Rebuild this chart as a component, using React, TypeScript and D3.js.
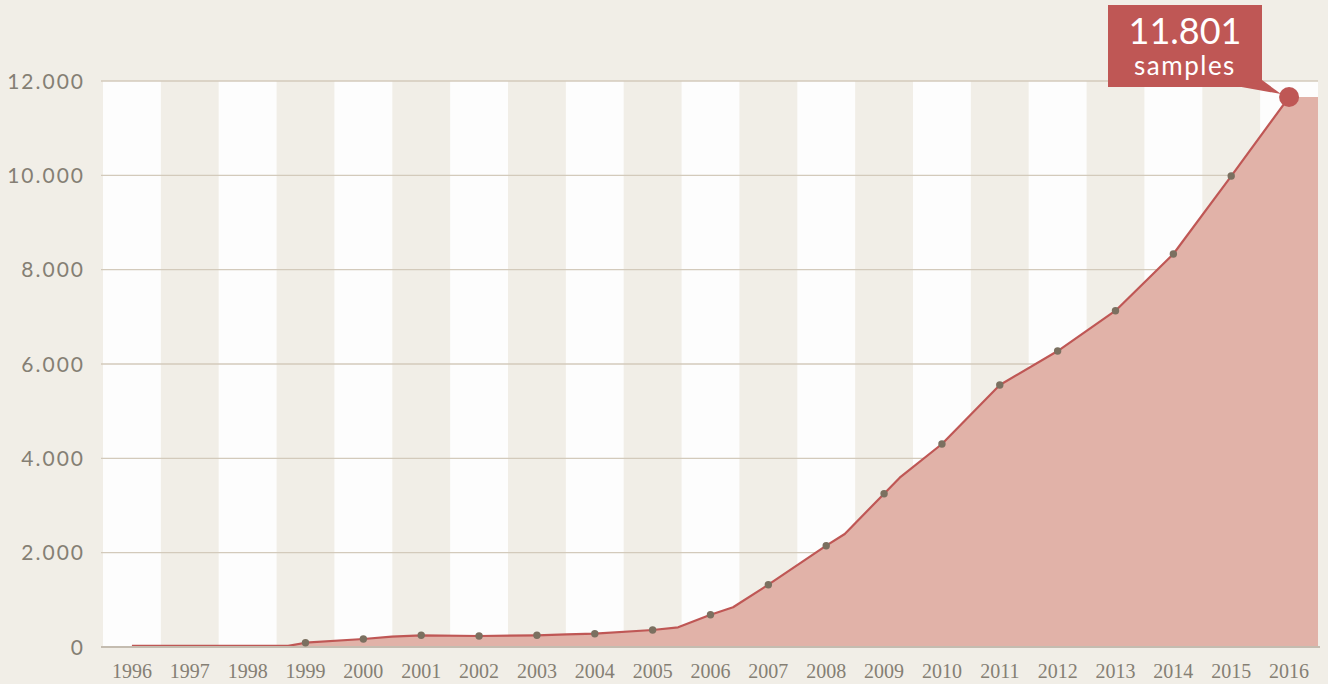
import React from "react";
import * as d3 from "d3";

// yearly samples (dots)
const years = [1996, 1997, 1998, 1999, 2000, 2001, 2002, 2003, 2004, 2005, 2006, 2007, 2008, 2009, 2010, 2011, 2012, 2013, 2014, 2015, 2016];
const yearLabels = ["1996", "1997", "1998", "1999", "2000", "2001", "2002", "2003", "2004", "2005", "2006", "2007", "2008", "2009", "2010", "2011", "2012", "2013", "2014", "2015", "2016"];
const samples = [25, 25, 25, 91, 170, 248, 233, 248, 282, 360, 685, 1321, 2148, 3250, 4304, 5554, 6275, 7130, 8332, 9985, 11660];

// the line also bends between the yearly dots
const lineDates = [1996, 1998.7, 1999, 2000, 2000.49, 2001, 2002, 2003, 2003.51, 2004, 2005, 2005.44, 2006, 2006.39, 2007, 2008, 2008.32, 2009, 2009.27, 2010, 2011, 2012, 2013, 2014, 2015, 2016];
const lineValues = [25, 25, 91, 170, 218, 248, 233, 248, 269, 282, 360, 418, 685, 842, 1321, 2148, 2396, 3250, 3589, 4304, 5554, 6275, 7130, 8332, 9985, 11660];

const yTicks = [0, 2000, 4000, 6000, 8000, 10000, 12000];
const calloutValue = "11.801";
const calloutLabel = "samples";

const W = 1328;
const H = 684;
const bg = "#f1eee7";
const red = "#bf5755";

const fmt = d3.formatLocale({ decimal: ",", thousands: ".", grouping: [3], currency: ["", ""] }).format(",d");

export default function App() {
  const x = d3.scaleLinear().domain([1995.5, 2016.5]).range([103, 1318]);
  const y = d3.scaleLinear().domain([0, 12000]).range([647, 81]);

  const pts = lineDates.map((d, i) => [d, lineValues[i]] as [number, number]);
  const areaPts = [...pts, [2016.5, lineValues[lineValues.length - 1]] as [number, number]];

  const line = d3.line<[number, number]>().x((d) => x(d[0])).y((d) => y(d[1]));
  const area = d3
    .area<[number, number]>()
    .x((d) => x(d[0]))
    .y0(y(0))
    .y1((d) => y(d[1]));

  const bw = x(1) - x(0);
  const last = years.length - 1;
  const lx = x(years[last]);
  const ly = y(samples[last]);

  return (
    <svg width={W} height={H} style={{ position: "fixed", left: 0, top: 0, display: "block" }}>
      <rect width={W} height={H} fill={bg} />

      {/* alternating year columns */}
      {years.map((yr, i) =>
        i % 2 === 0 ? (
          <rect key={yr} x={x(yr) - bw / 2} y={y(12000)} width={bw} height={y(0) - y(12000)} fill="#fdfdfd" />
        ) : null
      )}

      {/* gridlines */}
      {yTicks.map((t) => (
        <line key={t} x1={101} x2={1318} y1={y(t)} y2={y(t)} stroke="#d3cabb" strokeWidth={1.3} />
      ))}

      <path d={area(areaPts) || ""} fill="#e1b2a8" />
      <path d={line(pts) || ""} fill="none" stroke={red} strokeWidth={2.2} strokeLinejoin="round" />

      <line x1={101} x2={1320} y1={y(0)} y2={y(0)} stroke="#c4bcb0" strokeWidth={2} />

      {years.slice(3, last).map((yr, i) => (
        <circle key={yr} cx={x(yr)} cy={y(samples[i + 3])} r={3.7} fill="#7b7060" />
      ))}

      {/* y axis labels */}
      {yTicks.map((t) => (
        <text
          key={t}
          x={85}
          y={y(t)}
          dy="0.36em"
          textAnchor="end"
          fontFamily="Lato, 'Open Sans', sans-serif"
          fontSize={21}
          letterSpacing={2}
          fill="#857f74"
        >
          {fmt(t)}
        </text>
      ))}

      {/* x axis labels */}
      {years.map((yr, i) => (
        <text
          key={yr}
          x={x(yr)}
          y={678}
          textAnchor="middle"
          fontFamily="'Liberation Serif', serif"
          fontSize={20}
          fill="#857f74"
        >
          {yearLabels[i]}
        </text>
      ))}

      {/* callout */}
      <rect x={1108} y={5} width={154} height={82} fill={red} />
      <polygon points={`1236,86 1262,80 ${lx - 8},${ly - 3}`} fill={red} />
      <circle cx={lx} cy={ly} r={10} fill={red} />
      <text x={1185} y={44} textAnchor="middle" fontFamily="Lato, sans-serif" fontSize={36} fill="#fff">
        {calloutValue}
      </text>
      <text
        x={1185}
        y={75}
        textAnchor="middle"
        fontFamily="Lato, sans-serif"
        fontSize={26}
        letterSpacing={1.5}
        fill="#fff"
      >
        {calloutLabel}
      </text>
    </svg>
  );
}
